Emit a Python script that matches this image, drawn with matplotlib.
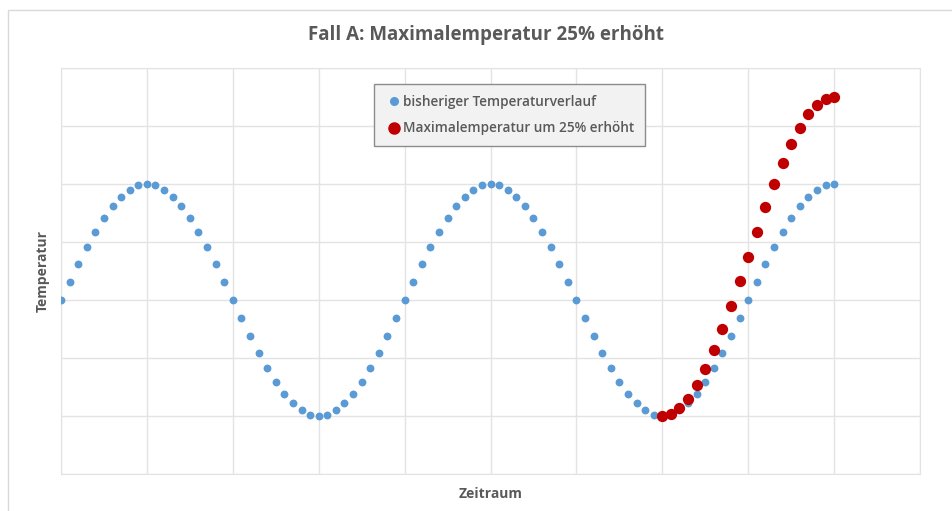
import numpy as np
import matplotlib.pyplot as plt
from matplotlib.patches import Rectangle
from matplotlib.lines import Line2D

# Zeitraum index (one step = 1/10 of a grid cell)
zeitraum = list(range(0, 91))

# bisheriger Temperaturverlauf (grid units)
bisher = [0.00, 0.31, 0.62, 0.91, 1.18, 1.41, 1.62, 1.78, 1.90, 1.98, 2.00,
          1.98, 1.90, 1.78, 1.62, 1.41, 1.18, 0.91, 0.62, 0.31, 0.00,
          -0.31, -0.62, -0.91, -1.18, -1.41, -1.62, -1.78, -1.90, -1.98, -2.00,
          -1.98, -1.90, -1.78, -1.62, -1.41, -1.18, -0.91, -0.62, -0.31, 0.00,
          0.31, 0.62, 0.91, 1.18, 1.41, 1.62, 1.78, 1.90, 1.98, 2.00,
          1.98, 1.90, 1.78, 1.62, 1.41, 1.18, 0.91, 0.62, 0.31, 0.00,
          -0.31, -0.62, -0.91, -1.18, -1.41, -1.62, -1.78, -1.90, -1.98, -2.00,
          -1.98, -1.90, -1.78, -1.62, -1.41, -1.18, -0.91, -0.62, -0.31, 0.00,
          0.31, 0.62, 0.91, 1.18, 1.41, 1.62, 1.78, 1.90, 1.98, 2.00]

# Maximalemperatur um 25% erhoeht (starts at index 70)
zeitraum_neu = list(range(70, 91))
erhoeht = [-2.00, -1.97, -1.87, -1.70, -1.47, -1.19, -0.87, -0.50, -0.10, 0.32,
           0.75, 1.18, 1.60, 2.00, 2.37, 2.69, 2.97, 3.20, 3.37, 3.47, 3.50]

blue = "#5B9BD5"
red = "#C00000"
grey_txt = "#595959"
grid_c = "#E3E3E3"

plt.rcParams["font.family"] = ["Open Sans", "DejaVu Sans"]

fig = plt.figure(figsize=(9.53, 5.11), dpi=100)
ax = fig.add_axes([61 / 953, 37 / 511, 859 / 953, 406 / 511])

ax.scatter(zeitraum, bisher, s=32, color=blue, zorder=3, linewidths=0)
ax.scatter(zeitraum_neu, erhoeht, s=66, color=red, zorder=4, linewidths=0)

ax.set_xlim(0, 100)
ax.set_ylim(-3, 4)
ax.set_xticks(np.arange(0, 101, 10))
ax.set_yticks(np.arange(-3, 5, 1))
ax.tick_params(length=0, labelbottom=False, labelleft=False)
ax.grid(True, color=grid_c, linewidth=1)
ax.set_axisbelow(True)
for s in ax.spines.values():
    s.set_color(grid_c)

ax.set_xlabel("Zeitraum", fontsize=10, fontweight="bold", color=grey_txt, labelpad=9)
ax.set_ylabel("Temperatur", fontsize=10, fontweight="bold", color=grey_txt, labelpad=8)

fig.text(486 / 953, 1 - 35 / 511, "Fall A: Maximalemperatur 25% erhöht",
         ha="center", va="center", fontsize=13.5, fontweight="bold", color=grey_txt)

handles = [
    Line2D([], [], marker="o", linestyle="none", markersize=5.5, color=blue,
           label="bisheriger Temperaturverlauf"),
    Line2D([], [], marker="o", linestyle="none", markersize=8, color=red,
           label="Maximalemperatur um 25% erhöht"),
]
leg = ax.legend(handles=handles, loc="upper left", bbox_to_anchor=(0.357, 0.977),
                frameon=True, fancybox=False, borderpad=0.8,
                handletextpad=0.1, handlelength=1.2, labelspacing=0.9,
                prop={"weight": "semibold", "size": 9.8})
leg.get_frame().set_facecolor("#F2F2F2")
leg.get_frame().set_edgecolor("#8C8C8C")
leg.get_frame().set_alpha(1)
for t in leg.get_texts():
    t.set_color(grey_txt)

fig.add_artist(Rectangle((8 / 953, -0.1), 2, 1 - 9.5 / 511 + 0.1,
                         transform=fig.transFigure, fill=False,
                         edgecolor="#D9D9D9", linewidth=1))

fig.savefig("out.png", dpi=100)
